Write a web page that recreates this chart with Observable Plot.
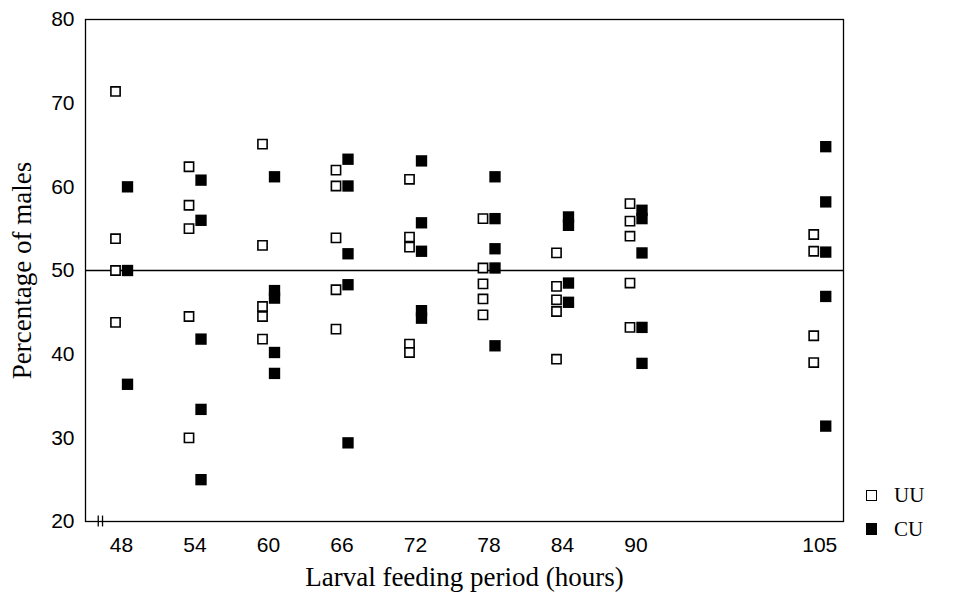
<!DOCTYPE html>
<html>
<head>
<meta charset="utf-8">
<script src="https://cdn.jsdelivr.net/npm/d3@7"></script>
<script src="https://cdn.jsdelivr.net/npm/@observablehq/plot@0.6"></script>
<style>
  body { margin: 0; background: #fff; }
  #wrap { position: relative; width: 962px; height: 593px; }
  .legend { position: absolute; left: 866px; font-family: "Liberation Serif", serif; font-size: 21px; color: #000; }
  .legend div { display: flex; align-items: center; height: 34px; }
  .sw { display: inline-block; box-sizing: border-box; margin-right: 17px; }
  .sw.open { width: 11px; height: 11px; border: 1.7px solid #000; background: #fff; }
  .sw.filled { width: 11px; height: 12px; background: #000; }
</style>
</head>
<body>
<div id="wrap"></div>
<script>
// Larval feeding period (hours) — tick labels and categories
const hours = [48, 54, 60, 66, 72, 78, 84, 90, 105];
const yTicks = [20, 30, 40, 50, 60, 70, 80];

// Percentage of males, one list per feeding period (same order as hours)
const uuValues = [
  [71.4, 53.8, 50.0, 43.8],
  [62.4, 57.8, 55.0, 44.5, 30.0],
  [65.1, 53.0, 45.7, 44.5, 41.8],
  [62.0, 60.1, 53.9, 47.7, 43.0],
  [60.9, 54.0, 52.8, 41.2, 40.2],
  [56.2, 50.3, 48.4, 46.6, 44.7],
  [52.1, 48.1, 46.5, 45.1, 39.4],
  [58.0, 55.9, 54.1, 48.5, 43.2],
  [54.3, 52.3, 42.2, 39.0]
];
const cuValues = [
  [60.0, 50.0, 36.4],
  [60.8, 56.0, 41.8, 33.4, 25.0],
  [61.2, 47.6, 46.7, 40.2, 37.7],
  [63.3, 60.1, 52.0, 48.3, 29.4],
  [63.1, 55.7, 52.3, 45.2, 44.3],
  [61.2, 56.2, 52.6, 50.3, 41.0],
  [56.4, 55.4, 48.5, 46.2],
  [57.2, 56.2, 52.1, 43.2, 38.9],
  [64.8, 58.2, 52.2, 46.9, 31.4]
];
const seriesNames = ["UU", "CU"];
const referenceLevel = [50];
const xTitle = "Larval feeding period (hours)";
const yTitle = "Percentage of males";

const toRows = (vals, series) => vals.flatMap((list, i) => list.map(v => ({hour: hours[i], value: v, series})));
const uuRows = toRows(uuValues, seriesNames[0]);
const cuRows = toRows(cuValues, seriesNames[1]);

const chart = Plot.plot({
  width: 962,
  height: 593,
  marginLeft: 85,
  marginRight: 119,
  marginTop: 19,
  marginBottom: 72,
  x: {domain: [45.06, 106.94]},
  y: {domain: [20, 80]},
  style: {fontFamily: "'Liberation Sans', Arial, sans-serif", fontSize: "21px", color: "#000", background: "#fff"},
  marks: [
    Plot.frame({stroke: "#000", strokeWidth: 1.3}),
    Plot.ruleY(referenceLevel, {stroke: "#000", strokeWidth: 1.6}),
    Plot.axisX(hours, {tickSize: 0, tickPadding: 16, label: null, fontSize: 21}),
    Plot.axisY(yTicks, {tickSize: 0, tickPadding: 11, label: null, fontSize: 21}),
    // axis break marks
    Plot.ruleX([46.1, 46.45], {y1: 19.35, y2: 20.65, stroke: "#000", strokeWidth: 1.3}),
    Plot.dot(uuRows, {x: "hour", y: "value", symbol: "square", r: 5.2, fill: "#fff", stroke: "#000", strokeWidth: 1.6, dx: -6}),
    Plot.dot(cuRows, {x: "hour", y: "value", symbol: "square", r: 6.4, fill: "#000", stroke: "none", dx: 6}),
    Plot.text([xTitle], {text: d => d, frameAnchor: "bottom", lineAnchor: "middle", dy: 56, fontFamily: "'Liberation Serif', serif", fontSize: 27}),
    Plot.text([yTitle], {text: d => d, frameAnchor: "left", textAnchor: "middle", lineAnchor: "middle", dx: -63, rotate: -90, fontFamily: "'Liberation Serif', serif", fontSize: 27})
  ]
});

const wrap = document.getElementById("wrap");
wrap.appendChild(chart);

const legend = document.createElement("div");
legend.className = "legend";
legend.style.top = "478px";
legend.innerHTML = seriesNames.map((s, i) =>
  `<div><span class="sw ${i === 0 ? "open" : "filled"}"></span>${s}</div>`).join("");
wrap.appendChild(legend);
</script>
</body>
</html>
